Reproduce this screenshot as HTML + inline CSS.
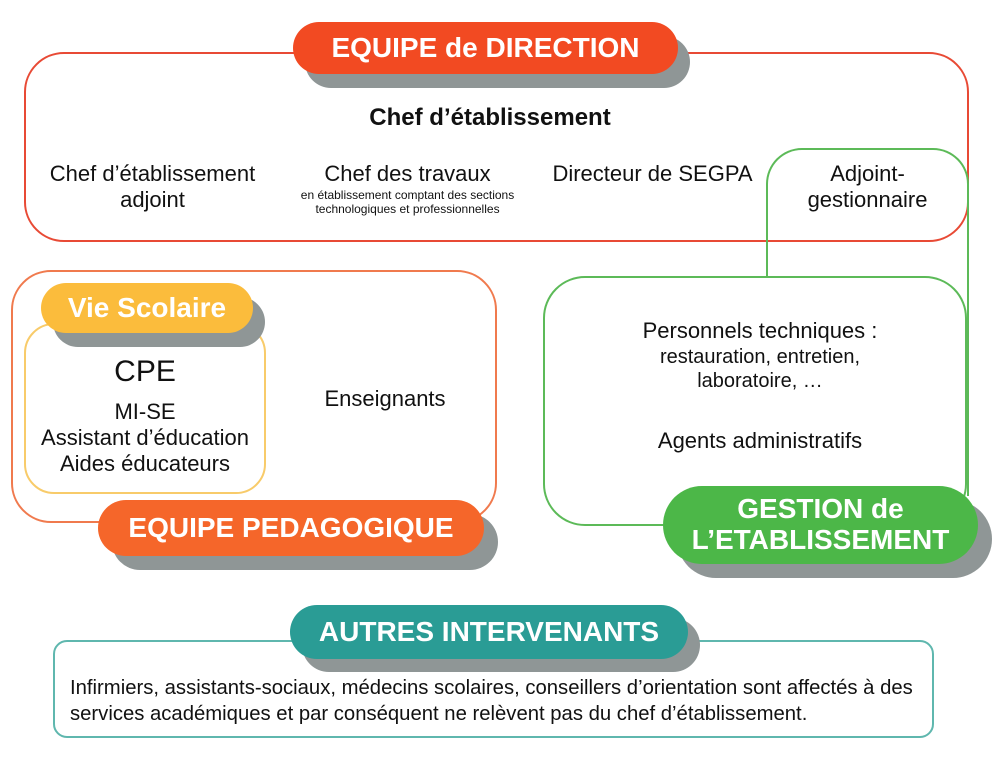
<!DOCTYPE html>
<html><head><meta charset="utf-8"><style>
body{margin:0;width:1006px;height:770px;background:#fff;position:relative;overflow:hidden;font-family:"Liberation Sans",sans-serif;color:#111}
.a{position:absolute;box-sizing:border-box}
.t{position:absolute;text-align:center;white-space:nowrap}
.pill{position:absolute;color:#fff;font-weight:bold;text-align:center;display:flex;align-items:center;justify-content:center;line-height:1.1}
.sh{position:absolute;background:#8f9696}
</style></head><body>
<!-- direction -->
<div class="a" style="left:24px;top:52px;width:945px;height:190px;border:2px solid #e84a35;border-radius:40px"></div>
<!-- green connector -->
<div class="a" style="left:766px;top:148px;width:203px;height:80px;border:2px solid #5cba58;border-bottom:none;border-radius:36px 36px 0 0"></div>
<div class="a" style="left:766px;top:226px;width:2px;height:52px;background:#5cba58"></div>
<div class="a" style="left:967px;top:226px;width:2px;height:270px;background:#5cba58"></div>
<div class="a" style="left:543px;top:276px;width:424px;height:250px;border:2px solid #5cba58;border-radius:42px"></div>

<div class="sh" style="left:305px;top:36px;width:385px;height:52px;border-radius:26px"></div>
<div class="pill" style="left:293px;top:22px;width:385px;height:52px;border-radius:26px;background:#f24a22;font-size:28px">EQUIPE de DIRECTION</div>

<div class="t" style="left:290px;top:104px;width:400px;font-weight:bold;font-size:24px">Chef d’établissement</div>
<div class="t" style="left:30px;top:161px;width:245px;font-size:22px;line-height:26px">Chef d’établissement<br>adjoint</div>
<div class="t" style="left:280px;top:161px;width:255px;font-size:22px">Chef des travaux</div>
<div class="t" style="left:280px;top:188px;width:255px;font-size:12px;line-height:14px">en établissement comptant des sections<br>technologiques et professionnelles</div>
<div class="t" style="left:540px;top:161px;width:225px;font-size:22px">Directeur de SEGPA</div>
<div class="t" style="left:770px;top:161px;width:195px;font-size:22px;line-height:26px">Adjoint-<br>gestionnaire</div>

<!-- pedagogique -->
<div class="a" style="left:11px;top:270px;width:486px;height:253px;border:2px solid #f07a4e;border-radius:40px"></div>
<div class="a" style="left:24px;top:323px;width:242px;height:171px;border:2px solid #f8cb6a;border-radius:30px"></div>
<div class="sh" style="left:53px;top:297px;width:212px;height:50px;border-radius:25px"></div>
<div class="pill" style="left:41px;top:283px;width:212px;height:50px;border-radius:25px;background:#fbbc3c;font-size:28px">Vie Scolaire</div>
<div class="t" style="left:24px;top:355px;width:242px;font-size:30px">CPE</div>
<div class="t" style="left:24px;top:399px;width:242px;font-size:22px;line-height:26px">MI-SE<br>Assistant d’éducation<br>Aides éducateurs</div>
<div class="t" style="left:290px;top:386px;width:190px;font-size:22px">Enseignants</div>
<div class="sh" style="left:112px;top:514px;width:386px;height:56px;border-radius:28px"></div>
<div class="pill" style="left:98px;top:500px;width:386px;height:56px;border-radius:28px;background:#f5662a;font-size:28px">EQUIPE PEDAGOGIQUE</div>

<!-- gestion -->
<div class="t" style="left:560px;top:318px;width:400px;font-size:22px">Personnels techniques :</div>
<div class="t" style="left:560px;top:345px;width:400px;font-size:20px;line-height:24px">restauration, entretien,<br>laboratoire, …</div>
<div class="t" style="left:560px;top:428px;width:400px;font-size:22px">Agents administratifs</div>
<div class="sh" style="left:677px;top:500px;width:315px;height:78px;border-radius:39px"></div>
<div class="pill" style="left:663px;top:486px;width:315px;height:78px;border-radius:39px;background:#4cb748;font-size:28px">GESTION de<br>L’ETABLISSEMENT</div>

<!-- autres -->
<div class="a" style="left:53px;top:640px;width:881px;height:98px;border:2px solid #5fb7ae;border-radius:14px"></div>
<div class="sh" style="left:302px;top:618px;width:398px;height:54px;border-radius:27px"></div>
<div class="pill" style="left:290px;top:605px;width:398px;height:54px;border-radius:27px;background:#2a9c95;font-size:28px">AUTRES INTERVENANTS</div>
<div class="t" style="left:70px;top:675px;text-align:left;font-size:20.3px;line-height:26px">Infirmiers, assistants-sociaux, médecins scolaires, conseillers d’orientation sont affectés à des<br>services académiques et par conséquent ne relèvent pas du chef d’établissement.</div>
</body></html>
